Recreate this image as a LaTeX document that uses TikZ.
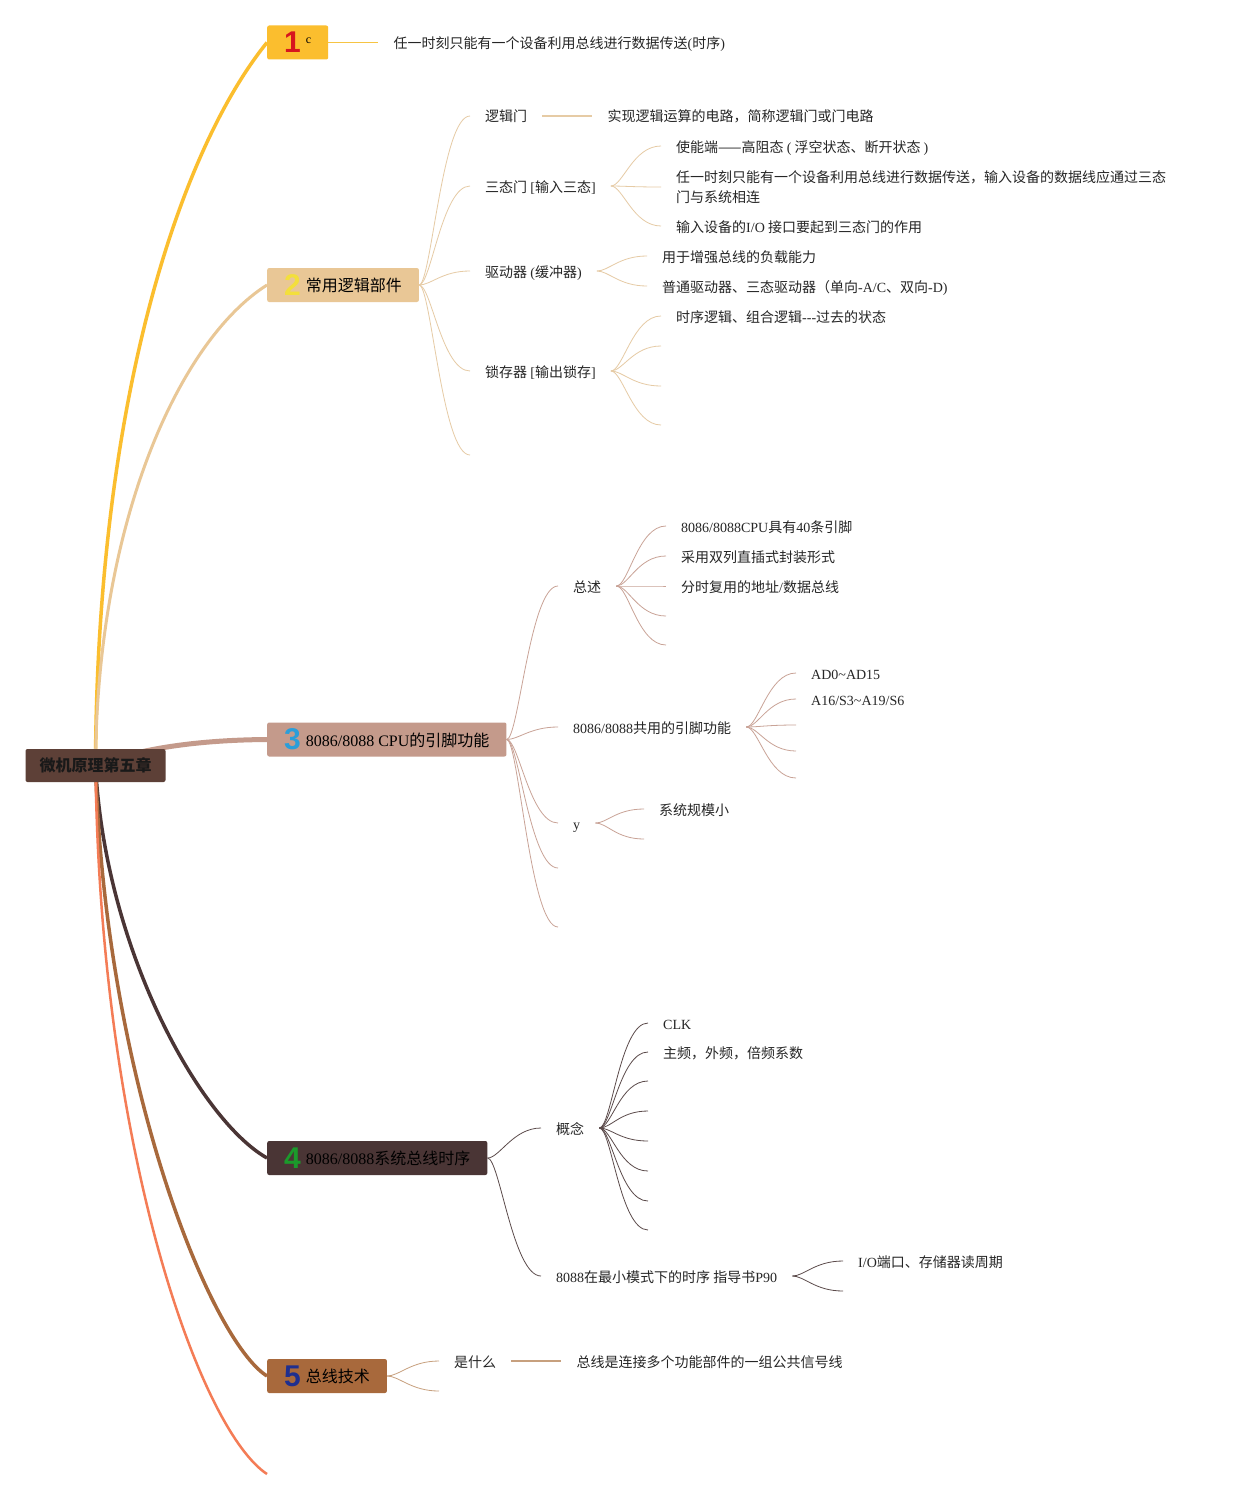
\documentclass[tikz,border=0pt]{standalone}
\usepackage{fontspec}
\setmainfont{Noto Sans CJK SC}
\newfontfamily\lat{Liberation Serif}
\newfontfamily\numfont{Liberation Sans}
\usetikzlibrary{positioning,backgrounds}
\definecolor{rootfill}{HTML}{5D4037}
\definecolor{fillA}{HTML}{FBBE2E}
\definecolor{fillB}{HTML}{E9C796}
\definecolor{fillC}{HTML}{C49A8B}
\definecolor{fillD}{HTML}{4A3535}
\definecolor{fillE}{HTML}{A8693C}
\definecolor{lineF}{HTML}{F47C56}
\definecolor{numA}{HTML}{D7161E}
\definecolor{numB}{HTML}{F3DF3C}
\definecolor{numC}{HTML}{2B9ED9}
\definecolor{numD}{HTML}{1B9A2B}
\definecolor{numE}{HTML}{1F2F8F}
\definecolor{thinA}{HTML}{F6C443}
\definecolor{thinB}{HTML}{E6CBA5}
\definecolor{thinC}{HTML}{C9A397}
\definecolor{thinD}{HTML}{5B4A4A}
\definecolor{thinE}{HTML}{C7A07E}
\newcommand\topicnum[2]{\raisebox{-3.5pt}{\numfont\bfseries\fontsize{30}{30}\selectfont\color{#1}#2}\hspace{5pt}}

\begin{document}
\begin{tikzpicture}[x=1pt,y=-1pt,
  topic/.style={anchor=west,rounded corners=2pt,minimum height=34pt,inner xsep=17pt,inner ysep=0pt,font=\fontsize{16}{19}\selectfont},
  note/.style={anchor=west,inner xsep=15pt,inner ysep=2pt,font=\fontsize{14}{20}\selectfont,text=black!85},
  leaf/.style={note,text height=13.5pt,text depth=1.5pt},
  fork/.style={to path={(\tikztostart) .. controls +(12,0) and +(-28,0) .. (\tikztotarget)}}]
 \useasboundingbox (0,0) rectangle (1236,1501);

   \node[fill=rootfill,rounded corners=2pt,minimum height=33pt,inner xsep=14pt,font=\fontsize{16}{19}\selectfont\bfseries,text=black!90] (root) at (95.5,765.5) {微机原理第五章};

   \node[topic,fill=fillA] (t1) at (267,42.5) {\topicnum{numA}{1}\raisebox{6pt}{\lat\fontsize{12}{12}\selectfont c}\hspace{4pt}};
   \node[topic,fill=fillB] (t2) at (267,285) {\topicnum{numB}{2}常用逻辑部件};
   \node[topic,fill=fillC] (t3) at (267,739.5) {\topicnum{numC}{3}{\lat 8086/8088 CPU}的引脚功能};
   \node[topic,fill=fillD,text=black] (t4) at (267,1158) {\topicnum{numD}{4}{\lat 8086/8088}系统总线时序};
   \node[topic,fill=fillE] (t5) at (267,1376) {\topicnum{numE}{5}总线技术};
   \coordinate (t6) at (267,1474);

   \node[leaf] (sx) [right=50pt of t1] {任一时刻只能有一个设备利用总线进行数据传送{\lat (}时序{\lat )}};

   \node[leaf] (ljm) at (470,116) {逻辑门};
   \node[leaf] (ljmd) [right=50pt of ljm] {实现逻辑运算的电路，简称逻辑门或门电路};
   \node[leaf] (stm) at (470,186) {三态门 {\lat [}输入三态{\lat ]}};
   \node[leaf] (stm1) at (661,146) {使能端——高阻态 {\lat (} 浮空状态、断开状态 {\lat )}};
   \node[note,align=left] (stm2) at (661,187) {任一时刻只能有一个设备利用总线进行数据传送，输入设备的数据线应通过三态\\门与系统相连};
   \node[leaf] (stm3) at (661,226) {输入设备的{\lat I/O} 接口要起到三态门的作用};
   \node[leaf] (qdq) at (470,271) {驱动器 {\lat (}缓冲器{\lat )}};
   \node[leaf] (qdq1) at (647,256) {用于增强总线的负载能力};
   \node[leaf] (qdq2) at (647,286) {普通驱动器、三态驱动器（单向{\lat -A/C}、双向{\lat -D)}};
   \node[leaf] (scq) at (470,371) {锁存器 {\lat [}输出锁存{\lat ]}};
   \node[leaf] (scq1) at (661,316) {时序逻辑、组合逻辑{\lat -{}-{}-}过去的状态};
   \coordinate (scq2) at (661,346);
   \coordinate (scq3) at (661,386);
   \coordinate (scq4) at (661,425);
   \coordinate (t2e) at (470,455);

   \node[leaf] (zs) at (558,586) {总述};
   \node[leaf] (zs1) at (666,526) {{\lat 8086/8088CPU}具有{\lat 40}条引脚};
   \node[leaf] (zs2) at (666,556) {采用双列直插式封装形式};
   \node[leaf] (zs3) at (666,586) {分时复用的地址{\lat /}数据总线};
   \coordinate (zs4) at (666,616);
   \coordinate (zs5) at (666,645);
   \node[leaf] (gy) at (558,727) {{\lat 8086/8088}共用的引脚功能};
   \node[leaf] (gy1) at (796,673) {\lat AD0\textasciitilde AD15};
   \node[leaf] (gy2) at (796,699) {\lat A16/S3\textasciitilde A19/S6};
   \coordinate (gy3) at (796,725);
   \coordinate (gy4) at (796,751);
   \coordinate (gy5) at (796,778);
   \node[leaf] (yy) at (558,823) {\lat y};
   \node[leaf] (yy1) at (644,809) {系统规模小};
   \coordinate (yy2) at (644,839);
   \coordinate (t3d) at (558,868);
   \coordinate (t3e) at (558,927);

   \node[leaf] (gn) at (541,1128) {概念};
   \node[leaf] (gn1) at (648,1023) {\lat CLK};
   \node[leaf] (gn2) at (648,1052) {主频，外频，倍频系数};
   \foreach \i/\y in {3/1081,4/1111,5/1141,6/1171,7/1201,8/1230}
     \coordinate (gn\i) at (648,\y);
   \node[leaf] (zx) at (541,1276) {{\lat 8088}在最小模式下的时序 指导书{\lat P90}};
   \node[leaf] (zx1) at (843,1261) {{\lat I/O}端口、存储器读周期};
   \coordinate (zx2) at (843,1291);

   \node[leaf] (sm) at (439,1361) {是什么};
   \node[leaf] (smd) [right=50pt of sm] {总线是连接多个功能部件的一组公共信号线};
   \coordinate (t5e) at (439,1391);

 \begin{pgfonlayer}{background}
   \fill[white] (0,0) rectangle (1236,1501);
   \draw[fillA,line width=3.5pt] (root.center) .. controls (97,400) and (180,150) .. (t1.west);
   \draw[fillB,line width=3pt] (root.center) .. controls (97,520) and (180,340) .. (t2.west);
   \draw[fillC,line width=5pt] (root.center) .. controls (140,748) and (200,740) .. (t3.west);
   \draw[fillD,line width=3.5pt] (root.center) .. controls (105,950) and (200,1120) .. (t4.west);
   \draw[fillE,line width=3.5pt] (root.center) .. controls (105,1080) and (210,1340) .. (t5.west);
   \draw[lineF,line width=2.5pt] (root.center) .. controls (100,1150) and (200,1430) .. (t6);

   \draw[thinA,line width=1pt] (t1) -- (sx);
   \draw[thinB,line width=1.4pt] (ljm) -- (ljmd);
   \draw[thinE,line width=1.6pt] (sm) -- (smd);

   \begin{scope}[thinB,line width=0.8pt]
   \path (t2.east) edge[fork] (ljm.west) edge[fork] (stm.west) edge[fork] (qdq.west)
               edge[fork] (scq.west) edge[fork] (t2e)
         (stm.east) edge[fork] (stm1.west) edge[fork] (stm2.west) edge[fork] (stm3.west)
         (qdq.east) edge[fork] (qdq1.west) edge[fork] (qdq2.west)
         (scq.east) edge[fork] (scq1.west) edge[fork] (scq2) edge[fork] (scq3) edge[fork] (scq4);
   \end{scope}
   \begin{scope}[thinC,line width=0.8pt]
   \path (t3.east) edge[fork] (zs.west) edge[fork] (gy.west) edge[fork] (yy.west)
               edge[fork] (t3d) edge[fork] (t3e)
         (zs.east) edge[fork] (zs1.west) edge[fork] (zs2.west) edge[fork] (zs3.west)
               edge[fork] (zs4) edge[fork] (zs5)
         (gy.east) edge[fork] (gy1.west) edge[fork] (gy2.west) edge[fork] (gy3)
               edge[fork] (gy4) edge[fork] (gy5)
         (yy.east) edge[fork] (yy1.west) edge[fork] (yy2);
   \end{scope}
   \begin{scope}[thinD,line width=0.8pt]
   \path (t4.east) edge[fork] (gn.west) edge[fork] (zx.west)
         (zx.east) edge[fork] (zx1.west) edge[fork] (zx2);
   \foreach \i in {1,2} \path (gn.east) edge[fork] (gn\i.west);
   \foreach \i in {3,...,8} \path (gn.east) edge[fork] (gn\i);
   \end{scope}
   \begin{scope}[thinE,line width=0.8pt]
   \path (t5.east) edge[fork] (sm.west) edge[fork] (t5e);
   \end{scope}
 \end{pgfonlayer}
\end{tikzpicture}
\end{document}
